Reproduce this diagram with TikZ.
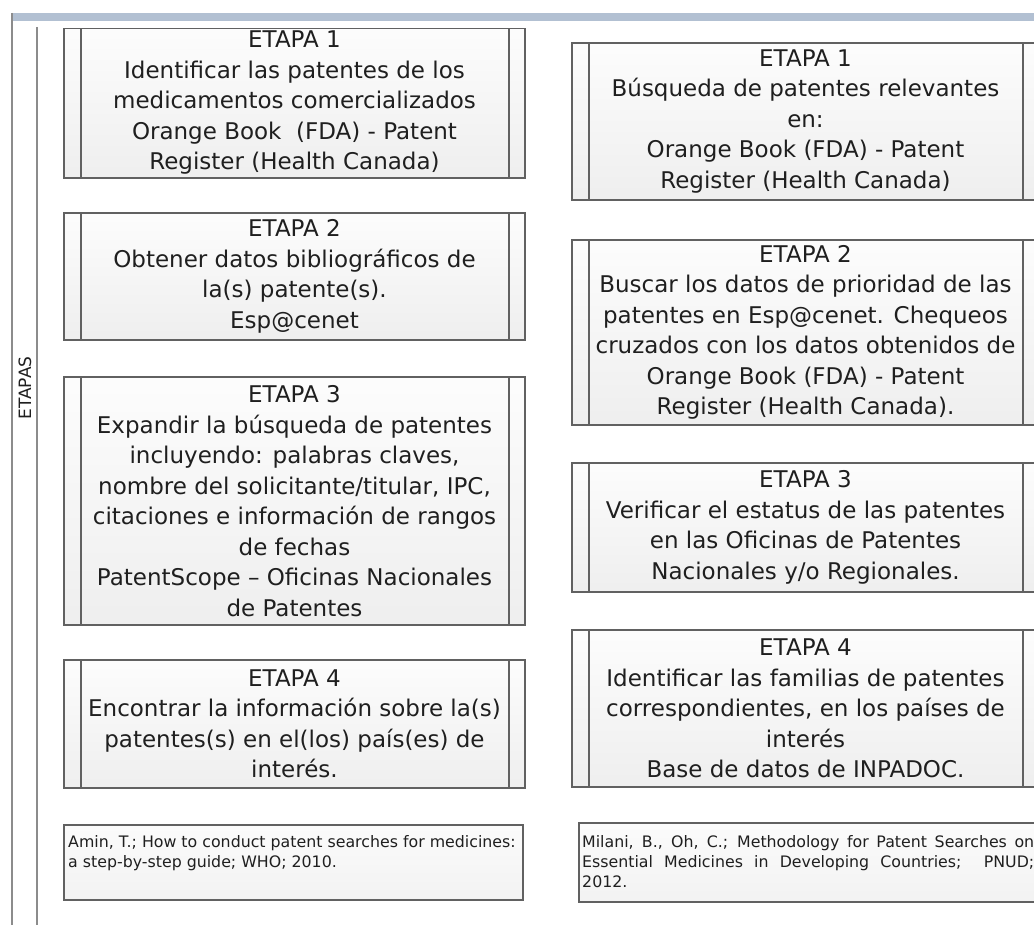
\documentclass[tikz,border=0pt]{standalone}
\usepackage{fontspec}
\setmainfont{DejaVu Sans}
\usetikzlibrary{calc}
\colorlet{BLine}{black!62}
\colorlet{ColLine}{black!45}
\colorlet{BText}{black!88}
\definecolor{TopBand}{RGB}{178,192,210}
\newcommand{\etapabox}[5]{%
	\shade[top color=gray!2, bottom color=gray!13] (#1,#2) rectangle (#3,#4);
	\draw[BLine, line width=1.2pt] (#1,#2) rectangle (#3,#4);
	\draw[BLine, line width=1.2pt] ({#1+17},#2) -- ({#1+17},#4);
	\draw[BLine, line width=1.2pt] ({#3-16},#2) -- ({#3-16},#4);
	\coordinate (#5) at ({(#1+#3)/2},{(#2+#4)/2});
}
\newcommand{\refbox}[4]{%
	\shade[top color=gray!3, bottom color=gray!10] (#1,#2) rectangle (#3,#4);
	\draw[BLine, line width=1.4pt] (#1,#2) rectangle (#3,#4);
}

\begin{document}
\begin{tikzpicture}[x=1pt, y=-1pt,
	etapa/.style={align=center, text=BText, inner sep=0pt,
		font=\fontsize{23}{30.5}\selectfont},
	refnote/.style={anchor=west, text=BText, inner sep=0pt,
		font=\fontsize{15.8}{20}\selectfont}]
	
	\useasboundingbox (0,0) rectangle (1034,925);
	\clip (0,0) rectangle (1034,925);
	
	% -- Top band and ETAPAS column ------------------------------
	\fill[TopBand] (13,13) rectangle (1034,21);
	\draw[ColLine, line width=1.3pt] (12,13) -- (12,925);
	\draw[ColLine, line width=1.3pt] (37,27) -- (37,925);
	\node[rotate=90, text=BText, font=\fontsize{17}{20}\selectfont]
	(etapas) at (25,388) {ETAPAS};
	
	% -- Left column (Amin) --------------------------------------
	\begin{scope}
		\clip (0,29) rectangle (1034,925);
		\etapabox{64}{28}{525}{178}{cL1}
	\end{scope}
	\node[etapa] (l1) at (cL1) {ETAPA 1\\Identificar las patentes de los\\
		medicamentos comercializados\\Orange Book\ \ (FDA) - Patent\\
		Register (Health Canada)};
	
	\etapabox{64}{213}{525}{340}{cL2}
	\node[etapa] (l2) at (cL2) {ETAPA 2\\Obtener datos bibliográficos de\\
		la(s) patente(s).\\Esp@cenet};
	
	\etapabox{64}{377}{525}{625}{cL3}
	\node[etapa] (l3) at (cL3) {ETAPA 3\\Expandir la búsqueda de patentes\\
		incluyendo: palabras claves,\\nombre del solicitante/titular, IPC,\\
		citaciones e información de rangos\\de fechas\\
		PatentScope – Oficinas Nacionales\\de Patentes};
	
	\etapabox{64}{660}{525}{788}{cL4}
	\node[etapa] (l4) at (cL4) {ETAPA 4\\Encontrar la información sobre la(s)\\
		patentes(s) en el(los) país(es) de\\interés.};
	
	\refbox{64}{825}{523}{900}
	\node[refnote, align=left] (refL) at (68,853)
	{Amin, T.; How to conduct patent searches for medicines:\\
		a step-by-step guide; WHO; 2010.};
	
	% -- Right column (Milani) -----------------------------------
	\etapabox{572}{43}{1039}{200}{cR1}
	\node[etapa] (r1) at (cR1) {ETAPA 1\\Búsqueda de patentes relevantes\\
		en:\\Orange Book (FDA) - Patent\\Register (Health Canada)};
	
	\etapabox{572}{240}{1039}{425}{cR2}
	\node[etapa] (r2) at (cR2) {ETAPA 2\\Buscar los datos de prioridad de las\\
		patentes en Esp@cenet. Chequeos\\cruzados con los datos obtenidos de\\
		Orange Book (FDA) - Patent\\Register (Health Canada).};
	
	\etapabox{572}{463}{1039}{592}{cR3}
	\node[etapa] (r3) at (cR3) {ETAPA 3\\Verificar el estatus de las patentes\\
		en las Oficinas de Patentes\\Nacionales y/o Regionales.};
	
	\etapabox{572}{630}{1039}{787}{cR4}
	\node[etapa] (r4) at (cR4) {ETAPA 4\\Identificar las familias de patentes\\
		correspondientes, en los países de\\interés\\Base de datos de INPADOC.};
	
	\refbox{579}{823}{1045}{902}
	\node[refnote, text width=452pt, align=justify] (refR) at (582,862)
	{Milani, B., Oh, C.; Methodology for Patent Searches on\linebreak
		Essential Medicines in Developing Countries;\ \ PNUD;\linebreak 2012.};
	
\end{tikzpicture}
\end{document}
